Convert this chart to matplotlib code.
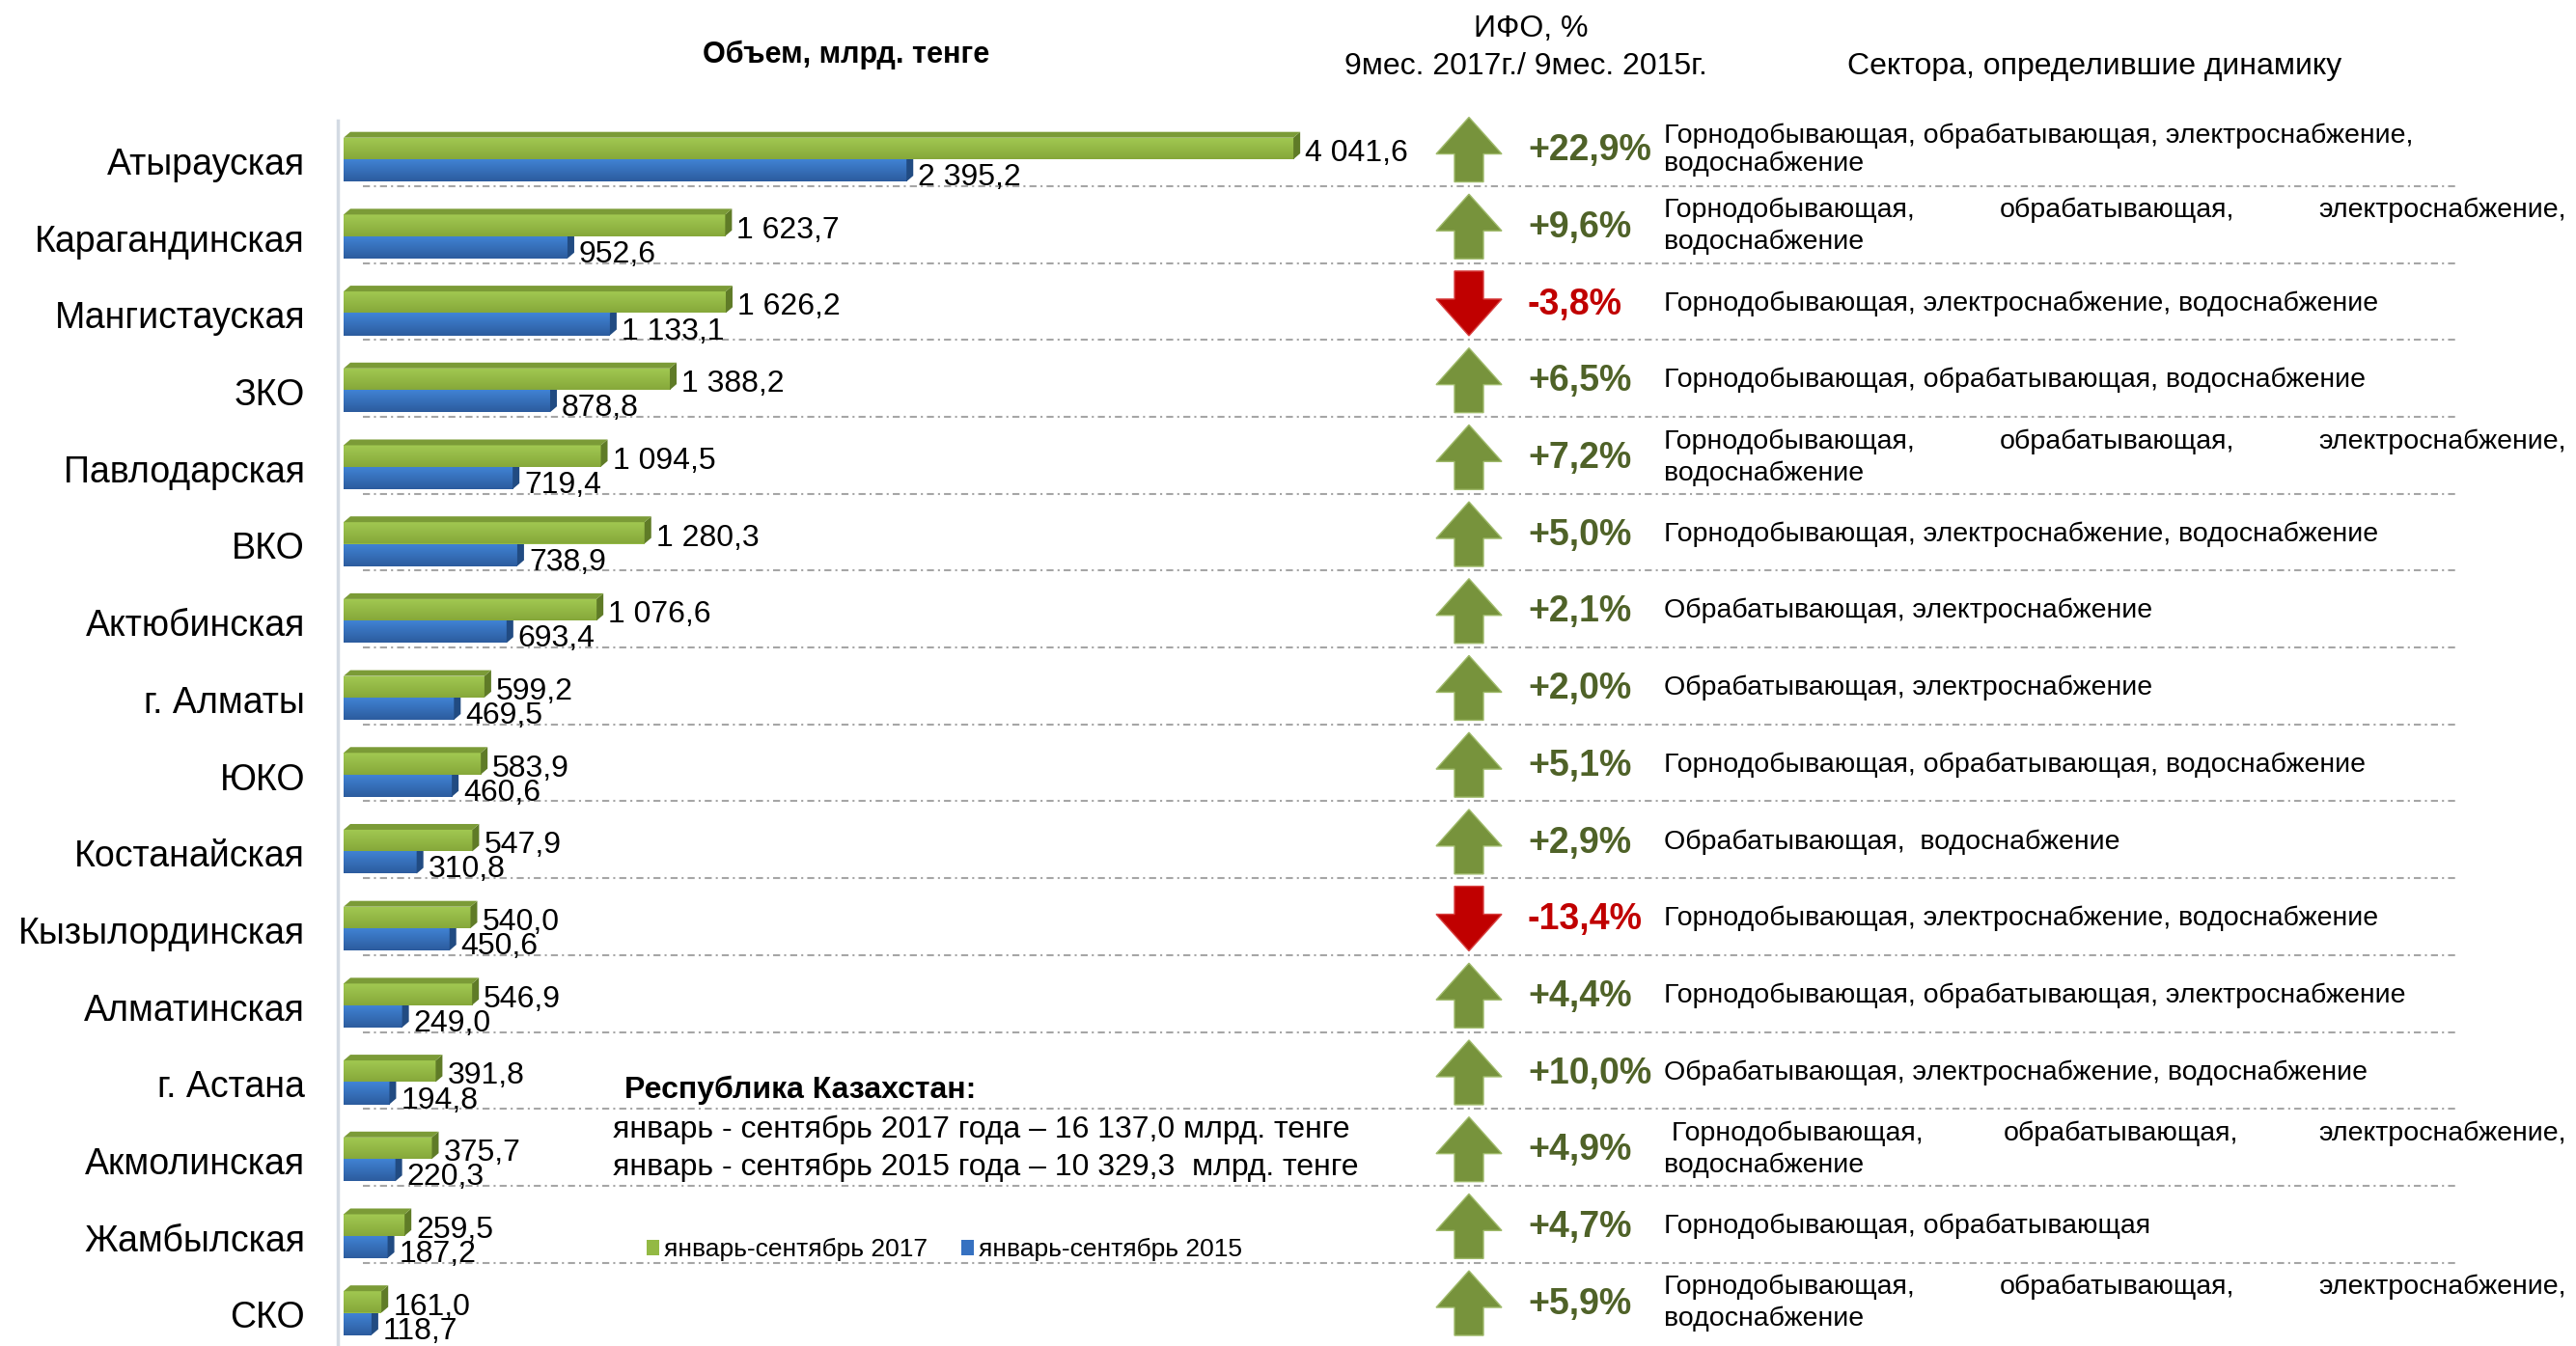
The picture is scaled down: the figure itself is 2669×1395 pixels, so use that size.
import numpy as np
import matplotlib.pyplot as plt
import matplotlib.transforms as mtransforms
from matplotlib.patches import Polygon
from matplotlib.lines import Line2D
from matplotlib.colors import LinearSegmentedColormap

plt.rcParams['font.family'] = ['Liberation Sans', 'DejaVu Sans']

regions = ['Атырауская', 'Карагандинская', 'Мангистауская', 'ЗКО', 'Павлодарская', 'ВКО',
           'Актюбинская', 'г. Алматы', 'ЮКО', 'Костанайская', 'Кызылординская',
           'Алматинская', 'г. Астана', 'Акмолинская', 'Жамбылская', 'СКО']
vol_2017 = [4041.6, 1623.7, 1626.2, 1388.2, 1094.5, 1280.3, 1076.6, 599.2,
            583.9, 547.9, 540.0, 546.9, 391.8, 375.7, 259.5, 161.0]
vol_2015 = [2395.2, 952.6, 1133.1, 878.8, 719.4, 738.9, 693.4, 469.5,
            460.6, 310.8, 450.6, 249.0, 194.8, 220.3, 187.2, 118.7]
ifo = [22.9, 9.6, -3.8, 6.5, 7.2, 5.0, 2.1, 2.0, 5.1, 2.9, -13.4, 4.4, 10.0, 4.9, 4.7, 5.9]
sectors = [
    'Горнодобывающая, обрабатывающая, электроснабжение,\nводоснабжение',
    'Горнодобывающая, обрабатывающая, электроснабжение,\nводоснабжение',
    'Горнодобывающая, электроснабжение, водоснабжение',
    'Горнодобывающая, обрабатывающая, водоснабжение',
    'Горнодобывающая, обрабатывающая, электроснабжение,\nводоснабжение',
    'Горнодобывающая, электроснабжение, водоснабжение',
    'Обрабатывающая, электроснабжение',
    'Обрабатывающая, электроснабжение',
    'Горнодобывающая, обрабатывающая, водоснабжение',
    'Обрабатывающая,  водоснабжение',
    'Горнодобывающая, электроснабжение, водоснабжение',
    'Горнодобывающая, обрабатывающая, электроснабжение',
    'Обрабатывающая, электроснабжение, водоснабжение',
    ' Горнодобывающая, обрабатывающая, электроснабжение,\nводоснабжение',
    'Горнодобывающая, обрабатывающая',
    'Горнодобывающая, обрабатывающая, электроснабжение,\nводоснабжение',
]
justified = {'Карагандинская', 'Павлодарская', 'Акмолинская', 'СКО'}
series_labels = ['январь-сентябрь 2017', 'январь-сентябрь 2015']
total_title = 'Республика Казахстан:'
total_lines = ['январь - сентябрь 2017 года – 16 137,0 млрд. тенге',
               'январь - сентябрь 2015 года – 10 329,3  млрд. тенге']


def fmt_val(v):
    return f'{v:,.1f}'.replace(',', ' ').replace('.', ',')


def fmt_pct(v):
    return f'{v:+.1f}%'.replace('.', ',')


W, H = 2669, 1395
fig = plt.figure(figsize=(W / 100, H / 100), dpi=100)
fig.patch.set_facecolor('white')

# bar panel: 0.2435 px per bln tenge, rows 79.7 px apart
ppu = 0.2435
row_px = 79.7
ax = fig.add_axes([350 / W, 0, 1100 / W, 1270 / H])
ax.set_xlim(-6 / ppu, 1094 / ppu)
ax.set_ylim(1230 / row_px, -40 / row_px)
ax.set_autoscale_on(False)
ax.patch.set_visible(False)
ax.set_xticks([])
ax.set_yticks([])
for s in ['top', 'right', 'bottom']:
    ax.spines[s].set_visible(False)
ax.spines['left'].set_color('#d3dae3')
ax.spines['left'].set_linewidth(2.5)

y = np.arange(len(regions))
gh, bh = 0.28, 0.29
gbars = ax.barh(y - gh / 2, vol_2017, height=gh, color='#93b944', zorder=3)
bbars = ax.barh(y + bh / 2, vol_2015, height=bh, color='#3671c1', zorder=2)

dx = 7 / ppu
dy = 6 / row_px
grad = np.linspace(0, 1, 64).reshape(-1, 1)


def shade(bars, c_top, c_bot, side_c, top_c=None):
    cmap = LinearSegmentedColormap.from_list('g', [c_top, c_bot])
    for r in bars:
        x0, y0 = r.get_x(), r.get_y()
        w, h = r.get_width(), r.get_height()
        z = r.get_zorder()
        im = ax.imshow(grad, cmap=cmap, extent=(x0, x0 + w, y0 + h, y0), aspect='auto',
                       origin='upper', interpolation='bilinear', zorder=z + 0.1)
        im.set_clip_path(r)
        ax.add_patch(Polygon([(x0 + w, y0), (x0 + w + dx, y0 - dy), (x0 + w + dx, y0 + h - dy),
                              (x0 + w, y0 + h)], closed=True, color=side_c, lw=0, zorder=z + 0.2))
        if top_c:
            ax.add_patch(Polygon([(x0, y0), (x0 + w, y0), (x0 + w + dx, y0 - dy), (x0 + dx, y0 - dy)],
                                 closed=True, color=top_c, lw=0, zorder=z + 0.2))


shade(bbars, '#4184d6', '#2c5c9e', '#214b82')
shade(gbars, '#a2c952', '#86a83a', '#5f7b27', '#7b9b37')
ax.set_xlim(-6 / ppu, 1094 / ppu)
ax.set_ylim(1230 / row_px, -40 / row_px)

for i, (a, b) in enumerate(zip(vol_2017, vol_2015)):
    ax.annotate(fmt_val(a), (a, i - 0.075), xytext=(12, 0), textcoords='offset pixels',
                va='center', fontsize=23, zorder=5)
    ax.annotate(fmt_val(b), (b, i + 0.24), xytext=(12, 0), textcoords='offset pixels',
                va='center', fontsize=23, zorder=5)

ax.legend(handles=[gbars, bbars], labels=series_labels, loc='center left',
          bbox_to_anchor=(670 / W, 1 - 1295 / H), bbox_transform=fig.transFigure,
          ncol=2, frameon=False, fontsize=19, handlelength=0.5, handleheight=0.55,
          handletextpad=0.2, columnspacing=1.3, borderpad=0, borderaxespad=0)

# x in figure fraction, y in row units
bt = mtransforms.blended_transform_factory(fig.transFigure, ax.transData)

for i in range(len(regions) - 1):
    fig.add_artist(Line2D([376 / W, 2545 / W], [i + 0.35, i + 0.35], transform=bt,
                          color='#a6a6a6', lw=1.5, linestyle=(0, (3.5, 2, 1, 2)), zorder=-1))

for i, name in enumerate(regions):
    fig.text(316 / W, i + 0.075, name, transform=bt, ha='right', va='center', fontsize=27)

cx, hw, sw = 1522, 34, 15
half, head = 33.5 / row_px, 38 / row_px
for i, v in enumerate(ifo):
    yc = i - 0.125
    if v >= 0:
        tip, base, end = yc - half, yc - half + head, yc + half
        fc, ec, tc = '#77933c', '#9fba6a', '#4f6228'
    else:
        tip, base, end = yc + half, yc + half - head, yc - half
        fc, ec, tc = '#c00000', '#d84040', '#c00000'
    pts = [(cx, tip), (cx + hw, base), (cx + sw, base), (cx + sw, end),
           (cx - sw, end), (cx - sw, base), (cx - hw, base)]
    pts = [(px / W, py) for px, py in pts]
    fig.add_artist(Polygon(pts, closed=True, transform=bt, facecolor=fc, edgecolor=ec, lw=1))
    fig.text(1583 / W, i - 0.11, fmt_pct(v), transform=bt, va='center', fontsize=27,
             fontweight='bold', color=tc)

renderer = fig.canvas.get_renderer()
sx0, sx1 = 1724, 2659
fs = 20.5
for i, (name, txt) in enumerate(zip(regions, sectors)):
    yc = i - 0.125
    if name not in justified:
        fig.text(sx0 / W, yc, txt, transform=bt, va='center', fontsize=fs, linespacing=1.15)
        continue
    first, second = txt.split('\n')
    lead = first[:len(first) - len(first.lstrip())]
    words = first.split()
    words[0] = lead + words[0]
    texts = [fig.text(0, yc - 0.207, w, transform=bt, va='center', fontsize=fs) for w in words]
    widths = [t.get_window_extent(renderer).width for t in texts]
    gap = (sx1 - sx0 - sum(widths)) / (len(words) - 1)
    x = sx0
    for t, w in zip(texts, widths):
        t.set_x(x / W)
        x += w + gap
    fig.text(sx0 / W, yc + 0.207, second, transform=bt, va='center', fontsize=fs)

fig.text(877 / W, 1 - 57 / H, 'Объем, млрд. тенге', ha='center', va='center',
         fontsize=22, fontweight='bold')
fig.text(1586 / W, 1 - 30 / H, 'ИФО, %', ha='center', va='center', fontsize=23)
fig.text(1581 / W, 1 - 69 / H, '9мес. 2017г./ 9мес. 2015г.', ha='center', va='center', fontsize=23)
fig.text(2170 / W, 1 - 69 / H, 'Сектора, определившие динамику', ha='center', va='center', fontsize=23)

fig.text(647 / W, 1 - 1130 / H, total_title, va='center', fontsize=23, fontweight='bold')
for k, line in enumerate(total_lines):
    fig.text(635 / W, 1 - (1171 + 39 * k) / H, line, va='center', fontsize=23)

fig.savefig('out.png', dpi=100)
